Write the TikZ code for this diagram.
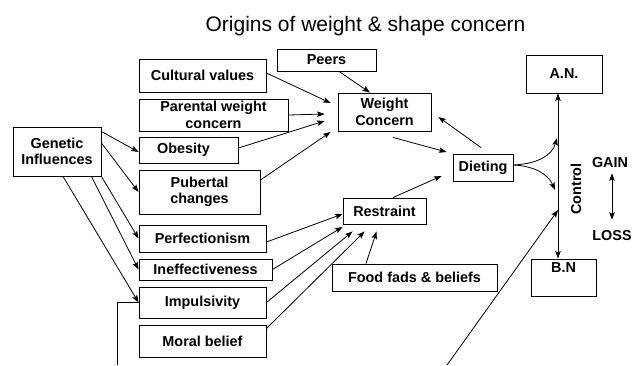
\documentclass[tikz,border=0pt]{standalone}
\usepackage{fontspec}
\setmainfont{Liberation Sans}
\usetikzlibrary{arrows.meta}
\begin{document}
\begin{tikzpicture}[x=1pt,y=-1pt,
  >={Stealth[length=7.5pt,width=5.5pt,inset=1.5pt]},
  box/.style={draw, line width=0.9pt, inner sep=0pt, align=center,
    font=\bfseries\fontsize{14.4}{16.5}\selectfont},
  lbl/.style={inner sep=0pt, font=\bfseries\fontsize{14.4}{16.5}\selectfont},
  ln/.style={line width=0.8pt}]
\useasboundingbox (0,0) rectangle (633,365);
% title
\node[inner sep=0pt, anchor=base, font=\fontsize{21}{24}\selectfont] (title) at (365.5,31) {Origins of weight \& shape concern};
% boxes
\node[box, minimum width=88pt, minimum height=49pt] (gen) at (57,151.5) {Genetic\\Influences};
\node[box, minimum width=127pt, minimum height=33pt] (cult) at (202.5,75.5) {Cultural values};
\node[box, minimum width=149pt, minimum height=32pt] (par) at (213.5,115) {Parental weight\\concern};
\node[box, minimum width=99pt, minimum height=26pt] (obe) at (188.5,150) {Obesity\hspace*{10pt}};
\node[box, minimum width=121pt, minimum height=44pt] (pub) at (199.5,192) {Pubertal\\changes\hspace*{0pt}};
\node[box, minimum width=127pt, minimum height=27pt] (perf) at (202.5,238.5) {Perfectionism};
\node[box, minimum width=133pt, minimum height=21pt] (ineff) at (205.5,269.5) {Ineffectiveness};
\node[box, minimum width=127pt, minimum height=31pt] (imp) at (202.5,302.5) {Impulsivity};
\node[box, minimum width=127pt, minimum height=32pt] (moral) at (202.5,341) {Moral belief};
\node[box, minimum width=99pt, minimum height=22pt] (peers) at (326.5,60) {Peers};
\node[box, minimum width=93pt, minimum height=38pt] (wc) at (384.5,112) {Weight\\Concern};
\node[box, minimum width=60pt, minimum height=27pt] (diet) at (483,167.5) {Dieting};
\node[box, minimum width=76pt, minimum height=38pt] (an) at (564,74) {A.N.};
\node[box, minimum width=65pt, minimum height=37pt] (bn) at (563.5,277.5) {B.N\\[4pt]};
\node[box, minimum width=83pt, minimum height=26pt] (restr) at (384.5,211) {Restraint};
\node[box, minimum width=165pt, minimum height=27pt] (food) at (414.5,277.5) {Food fads \& beliefs};
% labels
\node[lbl, rotate=90] (ctrl) at (576,189) {Control};
\node[lbl, anchor=base] (gain) at (610,167) {GAIN};
\node[lbl, anchor=base] (loss) at (612,240) {LOSS};
% free ends at the cut bottom edge and points on the control line
\coordinate (b1) at (117,365);
\coordinate (b2) at (447,365);
\coordinate (c1) at (557,138);
\coordinate (c2) at (555,190);
\coordinate (c3) at (558,210);
% genetic influences
\draw[ln,->] ([yshift=20pt]gen.east) -- ([yshift=-2pt]obe.west);
\draw[ln,->] ([yshift=8.5pt]gen.east) -- (pub.west);
\draw[ln,->] (gen.south east) -- (perf.west);
\draw[ln,->] ([xshift=-10pt]gen.south east) -- (ineff.west);
\draw[ln,->] ([xshift=6pt]gen.south) -- (imp.west);
\draw[ln] (imp.west) -| (b1);
% into weight concern
\draw[ln,->] ([yshift=2.5pt]cult.east) -- ([xshift=-7pt,yshift=9pt]wc.west);
\draw[ln,->] (par.east) -- ([xshift=-13pt,yshift=-2pt]wc.west);
\draw[ln,->] ([yshift=2pt]obe.east) -- ([xshift=-13pt,yshift=-9pt]wc.west);
\draw[ln,->] ([yshift=12pt]pub.east) -- ([xshift=-7pt,yshift=-20pt]wc.west);
\draw[ln,->] ([xshift=12.5pt]peers.south) -- ([xshift=-14.5pt]wc.north);
% weight concern <-> dieting
\draw[ln,->] ([xshift=8.5pt,yshift=-6pt]wc.south) -- ([xshift=-6pt,yshift=15.5pt]diet.west);
\draw[ln,->] ([xshift=-2pt,yshift=6pt]diet.north) -- ([xshift=7pt,yshift=-5pt]wc.east);
% restraint
\draw[ln,->] ([xshift=8.5pt]restr.north) -- ([xshift=-11pt,yshift=-8.5pt]diet.west);
\draw[ln,->] ([yshift=-3.5pt]perf.east) -- ([yshift=-3pt]restr.west);
\draw[ln,->] (ineff.east) -- ([yshift=-2.5pt]restr.south west);
\draw[ln,->] (imp.east) -- ([xshift=10pt,yshift=-7pt]restr.south west);
\draw[ln,->] ([yshift=-4pt]moral.north east) -- ([xshift=22pt,yshift=-7pt]restr.south west);
\draw[ln,->] ([xshift=-48.5pt]food.north) -- ([xshift=34pt,yshift=-7pt]restr.south west);
% control line
\draw[ln,<->] ([xshift=-6pt]an.south) -- ([xshift=-5.5pt]bn.north);
\draw[ln,->] ([yshift=2.5pt]diet.east) .. controls (536,164) and (552,156) .. (c1);
\draw[ln,->] ([yshift=2.5pt]diet.east) .. controls (534,166) and (548,174) .. (c2);
\draw[ln,->] (b2) -- (c3);
% gain / loss
\draw[ln,<->] ([xshift=2pt,yshift=-6pt]gain.south) -- ([yshift=10pt]loss.north);
\end{tikzpicture}
\end{document}
